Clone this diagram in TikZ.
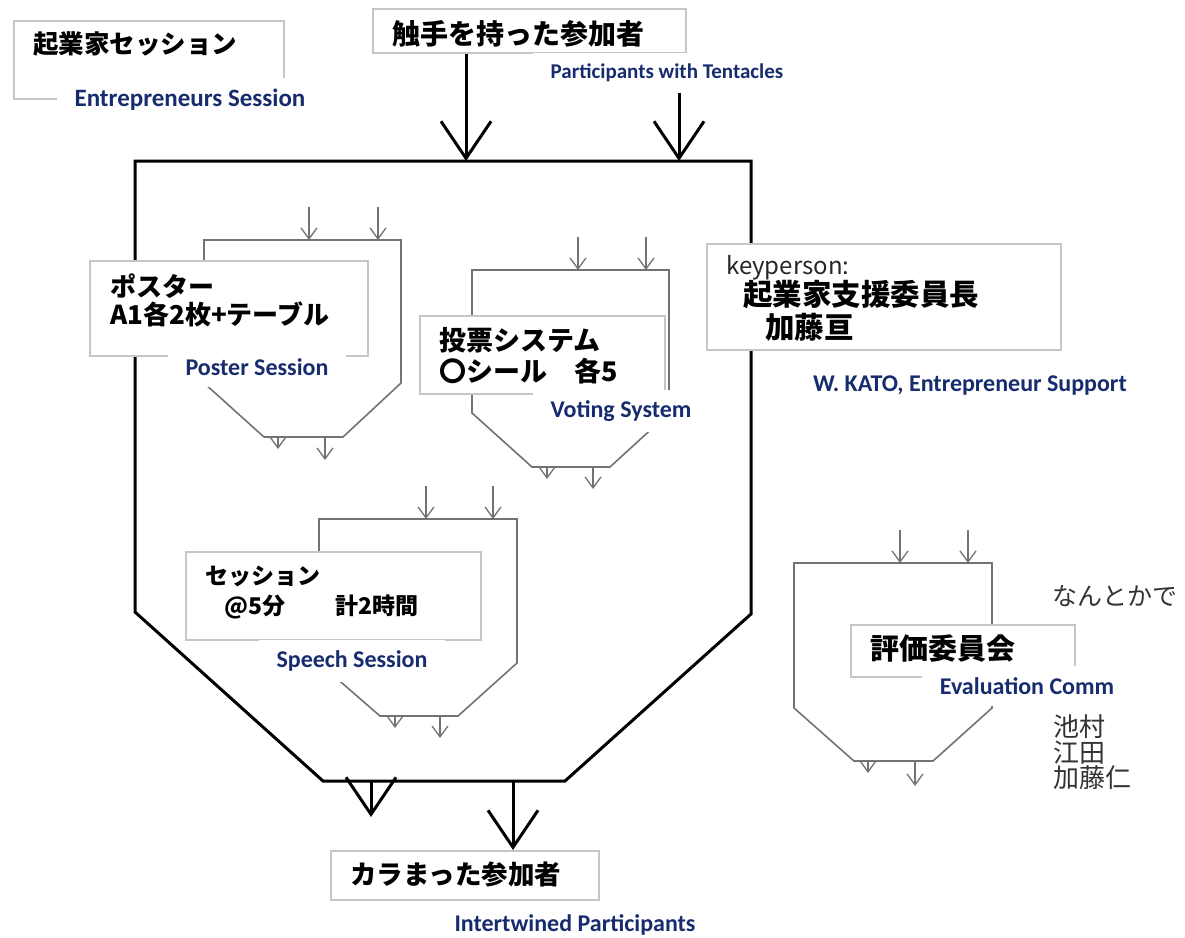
\documentclass[tikz,border=0pt]{standalone}
\usepackage{fontspec}
\newfontfamily\jpfont{Noto Sans CJK JP}
\newfontfamily\enfont{Carlito}
\usetikzlibrary{arrows.meta,positioning}
\definecolor{navy}{HTML}{172C6E}

\begin{document}
\begin{tikzpicture}[x=1pt, y=-1pt,
    jpbox/.style={draw=gray!45, line width=1.8pt, fill=white, inner sep=0pt, anchor=north west},
    jptext/.style={font=\jpfont\bfseries\fontsize{#1}{#1}\selectfont, inner sep=0pt, anchor=west},
    jptext/.default=26,
    jpnote/.style={font=\jpfont\fontsize{#1}{#1}\selectfont, text=black!80, inner sep=0pt, anchor=west},
    jpnote/.default=25,
    enlabel/.style={font=\enfont\bfseries\fontsize{#1}{#1}\selectfont, text=navy, fill=white, inner xsep=18pt, inner ysep=11pt},
    enlabel/.default=24,
    mainline/.style={draw=black, line width=3pt, line join=miter},
    subline/.style={draw=black!55, line width=1.6pt},
    bigarrow/.style={line width=3pt, -{Straight Barb[length=37pt, width=50pt, line width=3pt]}},
    smallarrow/.style={draw=black!55, line width=1.3pt, -{Straight Barb[length=11pt, width=16pt, line width=1.3pt]}},
    ]

    \fill[white] (0,0) rectangle (1185,937);
    \useasboundingbox (0,0) rectangle (1185,937);

    \draw[mainline] (135,161) -- (751,161) -- (751,614) -- (565,781) -- (323,781) -- (135,612) -- cycle;
    \coordinate (hoptopL) at (466,161);
    \coordinate (hoptopR) at (679,161);
    \coordinate (hopbotL) at (371,781);
    \coordinate (hopbotR) at (513,781);
    \coordinate (outL) at (371,817);

    \draw[subline] (204,240) -- (401,240) -- (401,383) -- (343,437) -- (264,437) -- (204,383) -- cycle;
    \draw[subline] (472,270) -- (669,270) -- (669,413) -- (610,467) -- (532,467) -- (472,413) -- cycle;
    \draw[subline] (319,519) -- (517,519) -- (517,663) -- (458,716) -- (380,716) -- (319,663) -- cycle;
    \draw[subline] (794,563) -- (992,563) -- (992,708) -- (933,761) -- (854,761) -- (794,708) -- cycle;

    \foreach \x/\y in {309/240, 378/240, 578/270, 646/270, 426/519, 493/519, 900/563, 968/563}
        \draw[smallarrow] (\x,\y-33) -- (\x,\y);
    \foreach \x/\y/\l in {278/437/12, 325/437/23, 547/467/12, 593/467/22, 395/716/12, 440/716/22, 868/761/12, 915/761/25}
        \draw[smallarrow] (\x,\y) -- (\x,\y+\l);

    % boxes
    \node[jpbox, minimum width=270pt, minimum height=78pt] (entbox) at (13,20) {};
    \node[jpbox, minimum width=313pt, minimum height=44pt] (tentbox) at (372,8) {};
    \node[jpbox, minimum width=278pt, minimum height=95pt] (posterbox) at (89,260) {};
    \node[jpbox, minimum width=245pt, minimum height=78pt] (votebox) at (419,315) {};
    \node[jpbox, minimum width=354pt, minimum height=106pt] (keybox) at (706,243) {};
    \node[jpbox, minimum width=295pt, minimum height=88pt] (speechbox) at (185,551) {};
    \node[jpbox, minimum width=224pt, minimum height=52pt] (evalbox) at (850,624) {};
    \node[jpbox, minimum width=268pt, minimum height=49pt] (intbox) at (330,850) {};

    \node[jptext=25.5] (entname) at (33,44) {起業家セッション};
    \node[jptext=28] (tentname) at (392,34) {触手を持った参加者};
    \node[jptext] (postername) at (110,286) {ポスター};
    \node[jptext] (posterspec) at (110,314) {A1各2枚+テーブル};
    \node[jptext=27] (votename) at (439,340) {投票システム};
    \node[jptext=27] (votespec) at (439,371) {〇シール　各5};
    \node[jpnote=24, text=black!85] (keyhead) at (726,268) {keyperson:};
    \node[jptext=29.5] (keyrole) at (743,295) {起業家支援委員長};
    \node[jptext=29.5] (keyname) at (765,327) {加藤亘};
    \node[jptext=23] (speechname) at (205,576) {セッション};
    \node[jptext=23] (speechspec) at (224,607) {@5分\hspace*{50pt}計2時間};
    \node[jptext=29] (evalname) at (870,648) {評価委員会};
    \node[jptext=26.5] (intname) at (350,874) {カラまった参加者};

    \node[jpnote] (nantoka) at (1052,596) {なんとかで};
    \node[jpnote=26] (memA) at (1053,727) {池村};
    \node[jpnote=26] (memB) at (1053,753) {江田};
    \node[jpnote=26] (memC) at (1053,778) {加藤仁};

    \node[enlabel=25] (entlbl) at (190,100) {Entrepreneurs Session};
    \node[enlabel=21] (tentlbl) at (667,73) {Participants with Tentacles};
    \node[enlabel] (posterlbl) at (257,367) {Poster Session};
    \node[enlabel] (votelbl) at (621,411) {Voting System};
    \node[enlabel] (keylbl) at (970,386) {W. KATO, Entrepreneur Support};
    \node[enlabel] (speechlbl) at (352,661) {Speech Session};
    \node[enlabel] (evallbl) at (1027,686) {Evaluation Comm};
    \node[enlabel] (intlbl) at (575,925) {Intertwined Participants};

    \draw[bigarrow] (tentbox.south -| hoptopL) -- (hoptopL);
    \draw[bigarrow] (tentlbl.south -| hoptopR) -- (hoptopR);
    \draw[bigarrow] (hopbotL) -- (outL);
    \draw[bigarrow] (hopbotR) -- (hopbotR |- intbox.north);

\end{tikzpicture}
\end{document}
